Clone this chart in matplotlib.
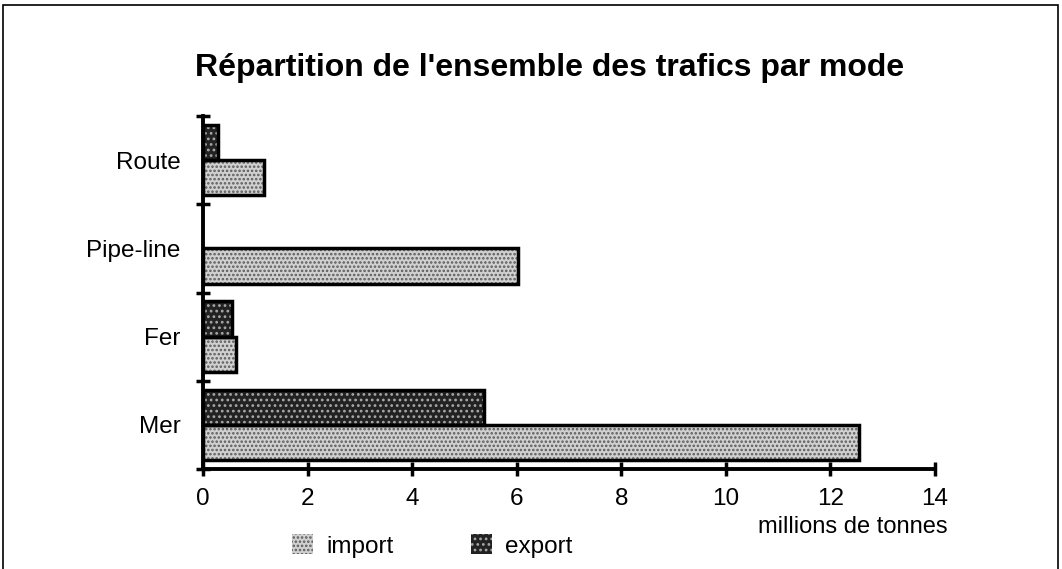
import matplotlib
matplotlib.use("Agg")
import matplotlib.pyplot as plt
import matplotlib.ticker as ticker
from matplotlib.patches import Patch, Rectangle

plt.rcParams["font.family"] = ["Liberation Sans", "DejaVu Sans"]
plt.rcParams["hatch.linewidth"] = 1.2

# data (millions de tonnes), bottom to top
modes = ["Mer", "Fer", "Pipe-line", "Route"]
imports = [12.55, 0.63, 6.02, 1.17]
exports = [5.37, 0.55, 0.0, 0.29]
x_ticks = [0, 2, 4, 6, 8, 10, 12, 14]

IMPORT_FACE = "#d0d0d0"
IMPORT_DOTS = "#5a5a5a"
EXPORT_FACE = "#222222"
EXPORT_DOTS = "#a8a8a8"

fig = plt.figure(figsize=(10.62, 5.69), dpi=100)
fig.patch.set_facecolor("white")
ax = fig.add_axes([203 / 1062, 1 - 469 / 569, 732 / 1062, 353 / 569])

pos = list(range(len(modes)))
h = 0.4
imp_y = [p - 0.2 for p in pos]
exp_y = [p + 0.2 for p in pos]

# filled + dotted layer, then black outline on top
ax.barh(imp_y, imports, height=h, color=IMPORT_FACE, hatch="....",
        edgecolor=IMPORT_DOTS, linewidth=0)
ax.barh(exp_y, exports, height=h, color=EXPORT_FACE, hatch="...",
        edgecolor=EXPORT_DOTS, linewidth=0)
for ys, vals in ((imp_y, imports), (exp_y, exports)):
    for y, v in zip(ys, vals):
        if v > 0:
            ax.barh(y, v, height=h, fill=False, edgecolor="black", linewidth=2.5)

ax.set_xlim(0, 14)
ax.set_ylim(-0.5, len(modes) - 0.5)

ax.set_xticks(x_ticks)
ax.set_yticks(pos)
ax.set_yticklabels(modes)
ax.yaxis.set_minor_locator(ticker.FixedLocator([p - 0.5 for p in pos] + [len(modes) - 0.5]))

ax.tick_params(axis="y", which="major", length=0, pad=16, labelsize=17.5)
ax.tick_params(axis="y", which="minor", direction="inout", length=10, width=2.5)
ax.tick_params(axis="x", which="major", direction="inout", length=10, width=2.5,
               pad=9, labelsize=17.5)

ax.spines[["top", "right"]].set_visible(False)
ax.spines[["left", "bottom"]].set_linewidth(2.8)

fig.text(948 / 1062, 1 - 527 / 569, "millions de tonnes",
         ha="right", va="center", fontsize=17)

fig.text(550 / 1062, 1 - 68 / 569, "Répartition de l'ensemble des trafics par mode",
         ha="center", va="center", fontsize=23, fontweight="bold")

handles = [
    Patch(facecolor=IMPORT_FACE, hatch="....", edgecolor=IMPORT_DOTS, linewidth=0),
    Patch(facecolor=EXPORT_FACE, hatch="...", edgecolor=EXPORT_DOTS, linewidth=0),
]
fig.legend(handles, ["import", "export"], ncol=2, frameon=False,
           loc="center left", bbox_to_anchor=(280 / 1062, 1 - 546 / 569),
           fontsize=17.5, handlelength=0.85, handleheight=0.85,
           handletextpad=0.55, columnspacing=3.2, borderpad=0)

# outer frame
fig.add_artist(Rectangle((3 / 1062, -0.02), 1055 / 1062, 1.02 - 5 / 569,
                         transform=fig.transFigure, fill=False,
                         edgecolor="black", linewidth=1.2))

fig.savefig("out.png", dpi=100, facecolor="white")
